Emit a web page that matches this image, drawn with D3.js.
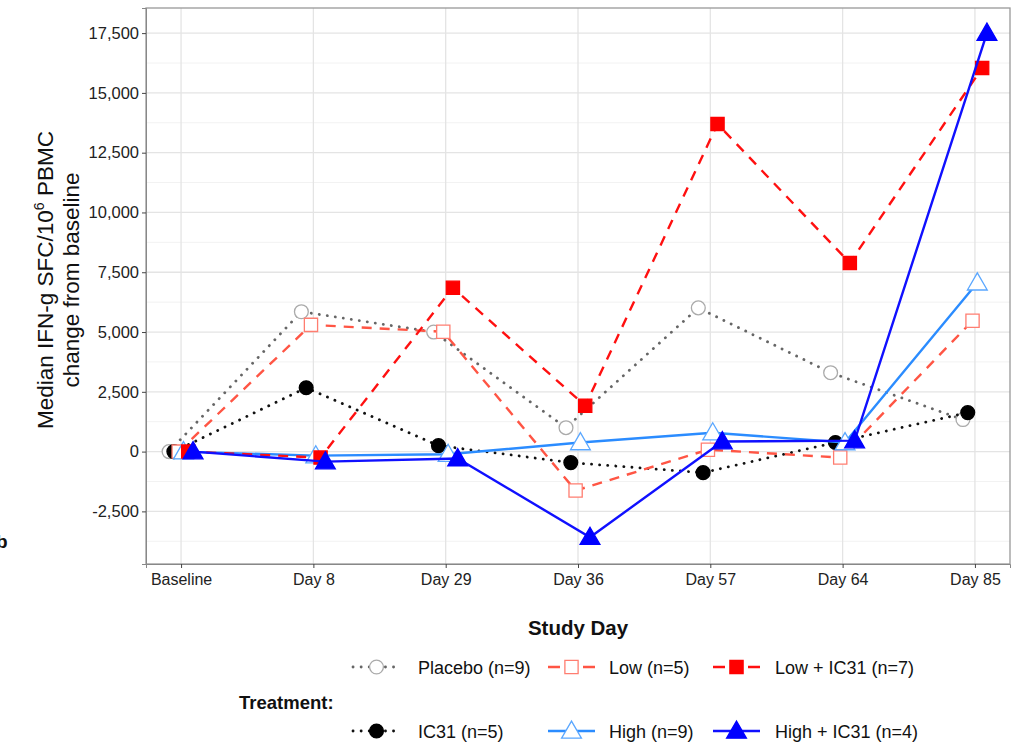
<!DOCTYPE html>
<html><head><meta charset="utf-8">
<script src="https://cdn.jsdelivr.net/npm/d3@7"></script>
<style>body{margin:0;background:#fff;}svg{display:block;font-family:"Liberation Sans",Arial,sans-serif;}</style>
</head><body><svg id="c" width="1020" height="745"></svg>
<script>
const days = ["Baseline","Day 8","Day 29","Day 36","Day 57","Day 64","Day 85"];
const seriesNames = ["Placebo (n=9)","IC31 (n=5)","Low (n=5)","High (n=9)","Low + IC31 (n=7)","High + IC31 (n=4)"];
const placebo   = [0, 5850, 5000, 1000, 6010, 3300, 1340];
const ic31      = [0, 2670, 250, -460, -880, 380, 1630];
const low       = [0, 5300, 5010, -1630, 80, -250, 5470];
const high      = [0, -170, -110, 380, 790, 380, 7060];
const lowIC31   = [0, -250, 6850, 1920, 13700, 7890, 16040];
const highIC31  = [0, -420, -290, -3580, 420, 460, 17500];
const yTicks = [-2500,0,2500,5000,7500,10000,12500,15000,17500];
const yMinor = [-3750,-1250,1250,3750,6250,8750,11250,13750,16250];

const values = [placebo, ic31, low, high, lowIC31, highIC31];
const styles = [
  {color:"#666", fill:"#fff", stroke:"#aaa", dash:"0.1 8", cap:"round", w:2.8, shape:"circle"},
  {color:"#111", fill:"#000", stroke:"#000", dash:"0.1 8", cap:"round", w:2.8, shape:"circle"},
  {color:"#ff5544", fill:"#fff", stroke:"#ff7d70", dash:"10 8", cap:"butt", w:2.4, shape:"square"},
  {color:"#2b8cff", fill:"#fff", stroke:"#5aa7ff", dash:null, cap:"butt", w:2.4, shape:"triangle"},
  {color:"#ff1010", fill:"#ff0000", stroke:"#ff0000", dash:"10 8", cap:"butt", w:2.4, shape:"square"},
  {color:"#1010ff", fill:"#0000ff", stroke:"#0000ff", dash:null, cap:"butt", w:2.4, shape:"triangle"}
];

const svg = d3.select("#c");
const L=146, R=1010, T=8, B=564;
const x = d3.scalePoint().domain(days).range([L,R]).padding(0.265);
const y = d3.scaleLinear().domain([-4700,18550]).range([B,T]);
const dodge = i => (i-2.5)*4.8;

// grid
const g = svg.append("g");
g.selectAll(".mn").data(yMinor).enter().append("line")
  .attr("x1",L).attr("x2",R).attr("y1",d=>y(d)).attr("y2",d=>y(d))
  .attr("stroke","#f2f2f2").attr("stroke-width",1);
g.selectAll(".mj").data(yTicks).enter().append("line")
  .attr("x1",L).attr("x2",R).attr("y1",d=>y(d)).attr("y2",d=>y(d))
  .attr("stroke","#e4e4e4").attr("stroke-width",1.3);
g.selectAll(".vx").data(days).enter().append("line")
  .attr("y1",T).attr("y2",B).attr("x1",d=>x(d)).attr("x2",d=>x(d))
  .attr("stroke","#e4e4e4").attr("stroke-width",1.3);

// lines and points
const sym = {circle:d3.symbolCircle, square:d3.symbolSquare, triangle:d3.symbolTriangle};
const symSize = {circle:150, square:175, triangle:170};
const line = d3.line().x(d=>d.x).y(d=>d.y);
values.forEach((vals,i)=>{
  const s = styles[i];
  const pts = vals.map((v,j)=>({x:x(days[j])+dodge(i), y:y(v)}));
  svg.append("path").attr("d",line(pts)).attr("fill","none")
    .attr("stroke",s.color).attr("stroke-width",s.w)
    .attr("stroke-dasharray",s.dash).attr("stroke-linecap",s.cap);
  svg.selectAll(null).data(pts).enter().append("path")
    .attr("transform",d=>`translate(${d.x},${d.y + (s.shape==="triangle"?1.5:0)})`)
    .attr("d",d3.symbol().type(sym[s.shape]).size(symSize[s.shape]))
    .attr("fill",s.fill).attr("stroke",s.stroke).attr("stroke-width",1.3);
});

// panel border
svg.append("rect").attr("x",L).attr("y",T).attr("width",R-L).attr("height",B-T)
  .attr("fill","none").attr("stroke","#999").attr("stroke-width",1.3);

// axes
const loc = d3.formatLocale({decimal:".", thousands:",", grouping:[3], currency:["",""], minus:"-"});
const yAxis = d3.axisLeft(y).tickValues(yTicks).tickSize(4).tickPadding(3)
  .tickFormat(loc.format(","));
const ya = svg.append("g").attr("transform",`translate(${L},0)`).call(yAxis);
ya.select(".domain").attr("stroke","#888");
ya.selectAll(".tick line").attr("stroke","#444");
ya.selectAll("text").attr("font-size",16.5).attr("fill","#222").attr("font-family","Liberation Sans, Arial, sans-serif");
const xAxis = d3.axisBottom(x).tickSize(4).tickPadding(6);
const xa = svg.append("g").attr("transform",`translate(0,${B})`).call(xAxis);
xa.select(".domain").attr("stroke","#888");
xa.selectAll(".tick line").attr("stroke","#444");
xa.selectAll("text").attr("font-size",16).attr("fill","#222").attr("font-family","Liberation Sans, Arial, sans-serif");

// axis titles
svg.append("text").attr("x",(L+R)/2).attr("y",635).attr("text-anchor","middle")
  .attr("font-size",20.5).attr("font-weight","bold").attr("fill","#111").text("Study Day");
const yt = svg.append("text").attr("transform",`translate(53,${(T+B)/2-6}) rotate(-90)`)
  .attr("text-anchor","middle").attr("font-size",22.5).attr("fill","#111");
yt.append("tspan").text("Median IFN-g SFC/10");
yt.append("tspan").attr("dy",-9).attr("font-size",14).text("6");
yt.append("tspan").attr("dy",9).text(" PBMC");
svg.append("text").attr("transform",`translate(79,${(T+B)/2-6}) rotate(-90)`)
  .attr("text-anchor","middle").attr("font-size",22.5).attr("fill","#111").text("change from baseline");

// stray panel letter at left edge (partly cropped in the original)
svg.append("text").attr("x",-4).attr("y",548).attr("font-size",19).attr("font-weight","bold").attr("fill","#111").text("b");

// legend
svg.append("text").attr("x",239).attr("y",709).attr("font-size",18.5).attr("font-weight","bold")
  .attr("fill","#111").text("Treatment:");
const colX = [353, 548, 713];
const rowY = [667, 731];
const labX = [418, 609, 775];
seriesNames.forEach((name,i)=>{
  const s = styles[i];
  const col = Math.floor(i/2), row = i%2;
  const kx = colX[col], ky = rowY[row];
  const lg = svg.append("g");
  lg.append("line").attr("x1",kx).attr("x2",kx+47).attr("y1",ky).attr("y2",ky)
    .attr("stroke",s.color).attr("stroke-width",s.w)
    .attr("stroke-dasharray",s.dash ? (s.shape==="circle"?"0.1 8":"12 23") : null)
    .attr("stroke-linecap",s.cap);
  lg.append("path").attr("transform",`translate(${kx+23.5},${ky + (s.shape==="triangle"?1.5:0)})`)
    .attr("d",d3.symbol().type(sym[s.shape]).size(symSize[s.shape]))
    .attr("fill",s.fill).attr("stroke",s.stroke).attr("stroke-width",1.3);
  lg.append("text").attr("x",labX[col]).attr("y",ky+6.5).attr("font-size",18)
    .attr("fill","#111").text(name);
});
</script></body></html>
